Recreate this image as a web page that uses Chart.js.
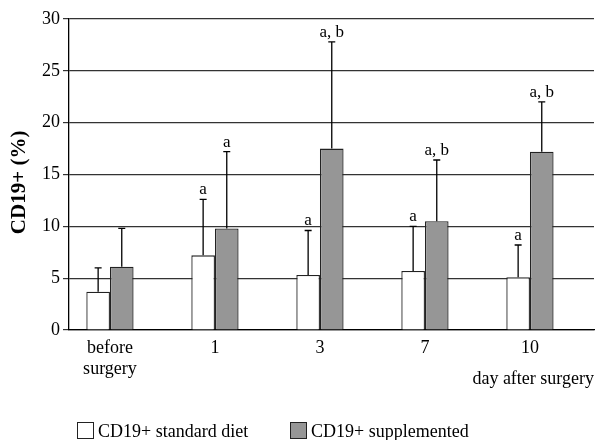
<!DOCTYPE html>
<html>
<head>
<meta charset="utf-8">
<script src="https://cdn.jsdelivr.net/npm/chart.js@4/dist/chart.umd.min.js"></script>
<style>
    body { margin: 0; background: #fff; }
    #wrap { position: relative; width: 596px; height: 440px; }
    .legend { position: absolute; top: 422px; font: 18px "Liberation Serif", serif; color: #000; white-space: nowrap; line-height: 18px; }
    .legend span.box { display: inline-block; width: 15px; height: 15px; border: 1px solid #222; vertical-align: -2px; margin-right: 4px; }
</style>
</head>
<body>
<div id="wrap">
    <canvas id="chart" width="596" height="440"></canvas>
    <div class="legend" style="left:77px"><span class="box" style="background:#fff"></span>CD19+ standard diet</div>
    <div class="legend" style="left:290px"><span class="box" style="background:#969696"></span>CD19+ supplemented</div>
</div>
<script>
const days = [['before', 'surgery'], '1', '3', '7', '10'];
const standardMean = [3.7, 7.2, 5.3, 5.7, 5.1];
const standardSd = [2.3, 5.4, 4.3, 4.3, 3.1];
const supplementedMean = [6.1, 9.8, 17.5, 10.5, 17.2];
const supplementedSd = [3.7, 7.4, 10.3, 5.9, 4.8];
const standardMarks = ['', 'a', 'a', 'a', 'a'];
const supplementedMarks = ['', 'a', 'a, b', 'a, b', 'a, b'];
const yTicks = [0, 5, 10, 15, 20, 25, 30];

const serif = '"Liberation Serif", "Times New Roman", serif';

// error bars (upward only) with significance letters
const errorBars = {
    id: 'errorBars',
    afterDatasetsDraw(chart) {
        const ctx = chart.ctx;
        const y = chart.scales.y;
        chart.data.datasets.forEach((ds, i) => {
            const meta = chart.getDatasetMeta(i);
            meta.data.forEach((bar, j) => {
                const top = y.getPixelForValue(ds.mean[j] + ds.sd[j]);
                ctx.save();
                ctx.strokeStyle = '#000';
                ctx.lineWidth = 1.3;
                ctx.beginPath();
                ctx.moveTo(bar.x, bar.y);
                ctx.lineTo(bar.x, top);
                ctx.moveTo(bar.x - 3.5, top);
                ctx.lineTo(bar.x + 3.5, top);
                ctx.stroke();
                if (ds.marks[j]) {
                    ctx.fillStyle = '#000';
                    ctx.font = '17px ' + serif;
                    ctx.textAlign = 'center';
                    ctx.textBaseline = 'alphabetic';
                    ctx.fillText(ds.marks[j], bar.x, top - 5);
                }
                ctx.restore();
            });
        });
    }
};

new Chart(document.getElementById('chart'), {
    type: 'bar',
    data: {
        datasets: [{
            label: 'CD19+ standard diet',
            data: standardMean.map((v, i) => ({x: i, y: v})),
            mean: standardMean,
            sd: standardSd,
            marks: standardMarks,
            backgroundColor: '#fff',
            borderColor: '#222',
            borderWidth: 1.3,
            borderSkipped: 'bottom'
        }, {
            label: 'CD19+ supplemented',
            data: supplementedMean.map((v, i) => ({x: i, y: v})),
            mean: supplementedMean,
            sd: supplementedSd,
            marks: supplementedMarks,
            backgroundColor: '#969696',
            borderColor: '#222',
            borderWidth: 1.3,
            borderSkipped: 'bottom'
        }]
    },
    options: {
        responsive: false,
        animation: false,
        layout: {
            padding: { top: 19, right: 2, left: 0, bottom: 0 }
        },
        datasets: {
            bar: { categoryPercentage: 0.45, barPercentage: 1 }
        },
        plugins: {
            legend: { display: false },
            tooltip: { enabled: false }
        },
        scales: {
            x: {
                type: 'linear',
                offset: false,
                min: -0.39,
                max: 4.61,
                afterBuildTicks: (scale) => { scale.ticks = days.map((d, i) => ({value: i})); },
                afterFit: (scale) => { scale.height = 110; },
                grid: { display: false, drawTicks: false },
                border: { display: true, color: '#000', width: 1.3 },
                ticks: {
                    autoSkip: false,
                    maxRotation: 0,
                    padding: 8,
                    color: '#000',
                    font: { family: serif, size: 18, lineHeight: 1.15 },
                    callback: (v) => days[v]
                },
                title: {
                    display: true,
                    text: 'day after surgery',
                    align: 'end',
                    color: '#000',
                    font: { family: serif, size: 18 },
                    padding: { top: 0, bottom: 50 }
                }
            },
            y: {
                min: 0,
                max: 30,
                afterBuildTicks: (scale) => { scale.ticks = yTicks.map(v => ({value: v})); },
                afterFit: (scale) => { scale.width = 69; },
                grid: { color: '#333', lineWidth: 1.2, tickLength: 6 },
                border: { display: true, color: '#000', width: 1.3 },
                ticks: {
                    padding: 3,
                    color: '#000',
                    font: { family: serif, size: 18 }
                },
                title: {
                    display: true,
                    text: 'CD19+ (%)   ',
                    color: '#000',
                    font: { family: serif, size: 21, weight: 'bold' },
                    padding: { top: 7, bottom: 0 }
                }
            }
        }
    },
    plugins: [errorBars]
});
</script>
</body>
</html>
